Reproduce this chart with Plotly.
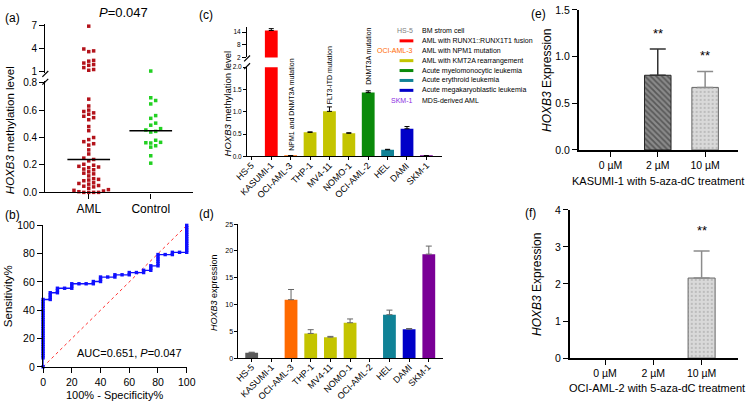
import numpy as np
import plotly.graph_objects as go

W, H = 753, 410
FONT = "Liberation Sans, Arial, sans-serif"


def fx(p):
    return p / W


def fy(p):
    return 1 - p / H


# ======================= DATA =======================
# (a) methylation level scatter
aml_methylation = [
    6.9, 3.9, 3.65, 3.55, 2.4, 2.3, 2.05, 1.85, 1.75, 1.45, 1.2, 1.1,
    0.68, 0.63, 0.60, 0.59, 0.58, 0.57, 0.555, 0.545, 0.53, 0.48, 0.45,
    0.40, 0.385, 0.37, 0.355, 0.345, 0.31, 0.28, 0.25, 0.24, 0.23,
    0.205, 0.198, 0.19, 0.185, 0.18, 0.17, 0.165, 0.15, 0.14, 0.135,
    0.12, 0.10, 0.095, 0.09, 0.085, 0.07, 0.065, 0.06, 0.05, 0.045,
    0.04, 0.03, 0.02, 0.015, 0.01, 0.005, 0.0, 0.0, 0.0, 0.0,
]
control_methylation = [
    0.213, 0.267, 0.33, 0.34, 0.36, 0.362, 0.365, 0.38, 0.44, 0.445,
    0.455, 0.465, 0.49, 0.505, 0.54, 0.56, 0.645, 0.67, 0.69, 1.00,
]
groups_a = ["AML", "Control"]
p_text_a = "<i>P</i>=0.047"
auc_text = "AUC=0.651, <i>P</i>=0.047"
diag_line = [0, 100]

# (c) / (d) cell lines
cells = ["HS-5", "KASUMI-1", "OCI-AML-3", "THP-1", "MV4-11", "NOMO-1",
         "OCI-AML-2", "HEL", "DAMI", "SKM-1"]
methylation_c = [None, 14.8, 0.01, 0.54, 1.01, 0.52, 1.43, 0.15, 0.62, 0.01]
methylation_c_err = [None, 0.9, 0.01, 0.01, 0.10, 0.01, 0.04, 0.01, 0.05, 0.01]
expression_d = [1.0, None, 10.9, 4.6, 3.9, 6.6, None, 8.1, 5.4, 19.4]
expression_d_err = [0.1, None, 1.9, 0.7, 0.15, 0.7, None, 0.85, 0.12, 1.5]
mutation_labels = {"OCI-AML-3": "NPM1 and DNMT3A mutation",
                   "MV4-11": "FLT3-ITD mutation",
                   "OCI-AML-2": "DNMT3A mutation"}
legend_keys = ["HS-5", None, "OCI-AML-3", None, None, None, None, "SKM-1"]
legend_texts = ["BM strom cell", "AML with RUNX1::RUNX1T1 fusion",
                "AML with NPM1 mutation", "AML with KMT2A rearrangement",
                "Acute myelomonocytic leukemia", "Acute erythroid leukemia",
                "Acute megakaryoblastic leukemia", "MDS-derived AML"]

# (e) / (f) 5-aza-dC treatment
doses = ["0 µM", "2 µM", "10 µM"]
kasumi_expr = [None, 0.80, 0.67]
kasumi_err = [None, 0.28, 0.17]
kasumi_sig = ["", "**", "**"]
oci_expr = [None, None, 2.16]
oci_err = [None, None, 0.73]
oci_sig = ["", "", "**"]

# ======================= STYLES =======================
cell_colors = ["#5a5a5a", "#ff0000", "#ff6a00", "#c4c400", "#c4c400", "#c4c400",
               "#0a8a0a", "#108296", "#0000c8", "#7a0096"]
legend_line_colors = [None, "#ff0000", None, "#c4c400", "#0a8a0a", "#108296",
                      "#0000c8", None]
legend_key_colors = ["#7f7f7f", None, "#ff6a00", None, None, None, None, "#8a2be2"]
dose_pattern = ["", "\\", "."]
dose_bg = ["#ffffff", "#8a8a8a", "#d9d9d9"]
dose_fg = ["#000000", "#262626", "#4a4a4a"]
dose_line = ["#000000", "#262626", "#666666"]
dose_err_color = ["#333333", "#333333", "#8c8c8c"]

fig = go.Figure()

# ======================= PANEL (a) =======================
AX_L, AX_R = 43, 193
XR_A = [-0.70, 1.68]
px_per_unit_a = (AX_R - AX_L) / (XR_A[1] - XR_A[0])
LOW_BOT, LOW_TOP = 192, 77
LOW_MAX = 0.8 * (LOW_BOT - LOW_TOP) / (LOW_BOT - 79.0)
UP_BOT, UP_TOP = 69, 19
UP_PX = (67 - 20) / 6.0  # px per unit of upper segment
UP_RANGE = [1 - (UP_BOT - 67) / UP_PX, 7 + (20 - UP_TOP) / UP_PX]


def a_ypx(v):
    if v > LOW_MAX:
        return 67 - (v - 1) * UP_PX
    return LOW_BOT - v * (LOW_BOT - 79.0) / 0.8


def swarm(values, step=5.0, diam=4.0):
    order = np.argsort(values, kind="stable")
    placed = []
    offs = np.zeros(len(values))
    cands = [0]
    for j in range(1, 30):
        cands += [j, -j]
    for i in order:
        yp = a_ypx(values[i])
        for c in cands:
            xo = c * step
            if all((xo - p0) ** 2 + (yp - p1) ** 2 >= diam ** 2 - 1e-9 for p0, p1 in placed):
                break
        placed.append((xo, yp))
        offs[i] = xo
    return offs


for gi, (vals, col) in enumerate([(aml_methylation, "#b3131b"), (control_methylation, "#22d022")]):
    vals = np.array(vals, dtype=float)
    offs = swarm(vals) / px_per_unit_a
    xs = gi + offs
    low = vals <= LOW_MAX
    fig.add_trace(go.Scatter(x=xs[low], y=vals[low], mode="markers", xaxis="x", yaxis="y",
                             marker=dict(symbol="square", size=3.5, color=col),
                             cliponaxis=False, showlegend=False, hoverinfo="skip"))
    fig.add_trace(go.Scatter(x=xs[~low], y=vals[~low], mode="markers", xaxis="x", yaxis="y2",
                             marker=dict(symbol="square", size=3.5, color=col),
                             cliponaxis=False, showlegend=False, hoverinfo="skip"))
    med = float(np.median(vals))
    fig.add_trace(go.Scatter(x=[gi - 0.344, gi + 0.344], y=[med, med], mode="lines",
                             xaxis="x", yaxis="y", line=dict(color="black", width=1.5),
                             showlegend=False, hoverinfo="skip"))

# ======================= PANEL (b) ROC =======================
a_arr = np.array(aml_methylation)
c_arr = np.array(control_methylation)
uv = np.unique(np.concatenate([a_arr, c_arr]))
thr = np.concatenate([[uv[0] - 1], (uv[:-1] + uv[1:]) / 2, [uv[-1] + 1]])
tpr = [100 * np.mean(a_arr < t) for t in thr]
fpr = [100 * np.mean(c_arr < t) for t in thr]

fig.add_trace(go.Scatter(x=diag_line, y=diag_line, mode="lines", xaxis="x2", yaxis="y3",
                         line=dict(color="#ff3333", width=1, dash="dot"),
                         showlegend=False, hoverinfo="skip"))
fig.add_trace(go.Scatter(x=fpr, y=tpr, mode="lines+markers", xaxis="x2", yaxis="y3",
                         line=dict(color="#1010ff", width=1.3),
                         marker=dict(symbol="square", size=3.4, color="#1010ff"),
                         cliponaxis=False, showlegend=False, hoverinfo="skip"))

# ======================= PANEL (c) =======================
idx_cells = list(range(len(cells)))
for yax in ["y4", "y5"]:
    fig.add_trace(go.Bar(x=idx_cells, y=methylation_c, xaxis="x3", yaxis=yax, width=0.66,
                         marker=dict(color=cell_colors, line=dict(width=0)),
                         error_y=dict(type="data", array=methylation_c_err,
                                      arrayminus=[0] * len(cells), symmetric=False,
                                      color="black", thickness=1, width=2.5),
                         showlegend=False, hoverinfo="skip"))

# ======================= PANEL (d) =======================
fig.add_trace(go.Bar(x=idx_cells, y=expression_d, xaxis="x4", yaxis="y6", width=0.65,
                     marker=dict(color=cell_colors, line=dict(width=0)),
                     error_y=dict(type="data", array=expression_d_err,
                                  arrayminus=[0] * len(cells), symmetric=False,
                                  color="#666666", thickness=1, width=3),
                     showlegend=False, hoverinfo="skip"))

# ======================= PANELS (e), (f) =======================
for xa, ya, vals, errs in [("x5", "y7", kasumi_expr, kasumi_err), ("x6", "y8", oci_expr, oci_err)]:
    for i, d in enumerate(doses):
        if vals[i] is None:
            continue
        fig.add_trace(go.Bar(x=[i], y=[vals[i]], xaxis=xa, yaxis=ya, width=0.56,
                             marker=dict(color=dose_bg[i],
                                         line=dict(color=dose_line[i], width=1),
                                         pattern=dict(shape=dose_pattern[i], fgcolor=dose_fg[i],
                                                      bgcolor=dose_bg[i], size=4,
                                                      solidity=0.45 if dose_pattern[i] == "\\" else 0.12,
                                                      fillmode="overlay")),
                             error_y=dict(type="data", array=[errs[i]], arrayminus=[0],
                                          symmetric=False, color=dose_err_color[i],
                                          thickness=1.5, width=8),
                             showlegend=False, hoverinfo="skip"))

# ======================= AXES =======================
base_ax = dict(showline=True, linecolor="black", zeroline=False, showgrid=False,
               ticks="outside", tickcolor="black", fixedrange=True)


def ax(**kw):
    d = dict(base_ax)
    d.update(kw)
    return d


lay = dict(
    xaxis=ax(domain=[fx(AX_L), fx(AX_R)], range=XR_A, anchor="y", tickvals=[0, 1],
             ticktext=groups_a, linewidth=1.3, ticklen=5,
             tickfont=dict(family=FONT, size=12, color="black")),
    yaxis=ax(domain=[fy(LOW_BOT), fy(LOW_TOP)], range=[0, LOW_MAX], anchor="x",
             tickvals=[0, 0.2, 0.4, 0.6, 0.8], tickformat=".1f", linewidth=1.3, ticklen=5,
             tickfont=dict(family=FONT, size=10, color="black")),
    yaxis2=ax(domain=[fy(UP_BOT), fy(UP_TOP)], range=UP_RANGE, anchor="x",
              tickvals=[1, 4, 7], linewidth=1.3, ticklen=5,
              tickfont=dict(family=FONT, size=10, color="black")),
    xaxis2=ax(domain=[fx(40.7), fx(186.7)], range=[0, 100], anchor="y3",
              tickvals=[0, 20, 40, 60, 80, 100], linewidth=1.3, ticklen=5,
              tickfont=dict(family=FONT, size=10.5, color="black")),
    yaxis3=ax(domain=[fy(371.7), fy(226)], range=[0, 100], anchor="x2",
              tickvals=[0, 20, 40, 60, 80, 100], linewidth=1.3, ticklen=5,
              tickfont=dict(family=FONT, size=10.5, color="black")),
    xaxis3=ax(domain=[fx(248), fx(446)], range=[-0.25, 9.8], anchor="y4",
              tickvals=idx_cells, showticklabels=False, linewidth=1, ticklen=3),
    yaxis4=ax(domain=[fy(155), fy(63)], range=[0, 2.0], anchor="x3",
              tickvals=[0, 0.5, 1.0, 1.5, 2.0], tickformat=".1f", linewidth=1, ticklen=3,
              tickfont=dict(family=FONT, size=6.5, color="black")),
    yaxis5=ax(domain=[fy(53), fy(22)], range=[2, 2 + 31 / (26 / 12)], anchor="x3",
              tickvals=[2, 8, 14], linewidth=1, ticklen=4,
              tickfont=dict(family=FONT, size=6.5, color="black")),
    xaxis4=ax(domain=[fx(239.3), fx(446.7)], range=[-0.67, 9.7], anchor="y6",
              tickvals=idx_cells, showticklabels=False, linewidth=1, ticklen=3),
    yaxis6=ax(domain=[fy(362.7), fy(224.7)], range=[0, 25], anchor="x4",
              tickvals=[0, 5, 10, 15, 20, 25], linewidth=1, ticklen=3,
              tickfont=dict(family=FONT, size=7, color="black")),
    xaxis5=ax(domain=[fx(585), fx(746.7)], range=[-0.67, 2.69], anchor="y7",
              tickvals=[0, 1, 2], ticktext=doses, linewidth=1.6, ticklen=5,
              tickfont=dict(family=FONT, size=10.5, color="black")),
    yaxis7=ax(domain=[fy(148.3), fy(4)], range=[0, 1.5], anchor="x5",
              tickvals=[0, 0.5, 1.0, 1.5], tickformat=".1f", linewidth=1.6, ticklen=5,
              tickfont=dict(family=FONT, size=10.5, color="black")),
    xaxis6=ax(domain=[fx(576), fx(746.7)], range=[-0.73, 2.75], anchor="y8",
              tickvals=[0, 1, 2], ticktext=doses, linewidth=1.6, ticklen=5,
              tickfont=dict(family=FONT, size=10.5, color="black")),
    yaxis8=ax(domain=[fy(362.7), fy(210)], range=[0, 4], anchor="x6",
              tickvals=[0, 1, 2, 3, 4], linewidth=1.6, ticklen=5,
              tickfont=dict(family=FONT, size=10.5, color="black")),
)

# ======================= ANNOTATIONS =======================
ann = []


def txt(x, y, s, size, color="black", xanchor="center", yanchor="middle", angle=0, xref="paper", yref="paper"):
    ann.append(dict(x=x, y=y, xref=xref, yref=yref, text=s, showarrow=False,
                    font=dict(family=FONT, size=size, color=color),
                    xanchor=xanchor, yanchor=yanchor, textangle=angle))


# rotated category tick labels for (c) and (d)
for xref, axis_py in [("x3", 155), ("x4", 362.7)]:
    for i, name in enumerate(cells):
        ann.append(dict(x=i, y=fy(axis_py + 2.5), xref=xref, yref="paper", text=name,
                        showarrow=False, textangle=-45, xanchor="right", yanchor="top",
                        xshift=6, borderpad=0,
                        font=dict(family=FONT, size=9, color="black")))

# panel letters
txt(fx(0), fy(12), "(a)", 12, xanchor="left")
txt(fx(0), fy(215), "(b)", 12, xanchor="left")
txt(fx(197), fy(9), "(c)", 12, xanchor="left")
txt(fx(197), fy(214), "(d)", 12, xanchor="left")
txt(fx(535), fy(8), "(e)", 12, xanchor="left")
txt(fx(528), fy(213), "(f)", 12, xanchor="left")

# (a)
txt(fx(122), fy(7), p_text_a, 13)
txt(fx(7), fy(128), "<i>HOXB3</i> methylation level", 11.5, angle=-90)
# (b)
txt(fx(129), fy(357), auc_text, 11)
txt(fx(5), fy(299), "Sensitivity%", 11.5, angle=-90)
txt(fx(113), fy(401), "100% - Specificity%", 11)
# (c)
txt(fx(228), fy(100), "<i>HOXB3</i> methylation level", 9.5, angle=-90)
mut_centers = {"OCI-AML-3": 102, "MV4-11": 71, "OCI-AML-2": 52}
for name, lab in mutation_labels.items():
    i = cells.index(name)
    ann.append(dict(x=i, y=fy(mut_centers[name]), xref="x3", yref="paper", text=lab,
                    showarrow=False, textangle=-90, xanchor="center", yanchor="middle",
                    font=dict(family=FONT, size=7, color="black")))
# legend of (c)
shapes = []
for r, (k, t) in enumerate(zip(legend_keys, legend_texts)):
    yy = 25.7 + r * 10.2
    if k is not None:
        txt(fx(419), fy(yy), k, 7, color=legend_key_colors[r], xanchor="right")
    if legend_line_colors[r] is not None:
        shapes.append(dict(type="line", xref="paper", yref="paper", x0=fx(403), x1=fx(417),
                           y0=fy(yy), y1=fy(yy), line=dict(color=legend_line_colors[r], width=3)))
    txt(fx(424), fy(yy), t, 7, xanchor="left")
# (d)
txt(fx(215), fy(295), "<i>HOXB3</i> expression", 9, angle=-90)
# (e)
txt(fx(553), fy(77), "<i>HOXB3</i> Expression", 12, angle=-90)
txt(fx(666), fy(180), "KASUMI-1 with 5-aza-dC treatment", 11)
for i, s in enumerate(kasumi_sig):
    if s:
        ann.append(dict(x=i, y=kasumi_expr[i] + kasumi_err[i], xref="x5", yref="y7", text=s,
                        showarrow=False, yshift=16, xanchor="center", yanchor="middle",
                        font=dict(family=FONT, size=13, color="black")))
# (f)
txt(fx(542), fy(287), "<i>HOXB3</i> Expression", 12, angle=-90)
txt(fx(665), fy(394), "OCI-AML-2 with 5-aza-dC treatment", 11)
for i, s in enumerate(oci_sig):
    if s:
        ann.append(dict(x=i, y=oci_expr[i] + oci_err[i], xref="x6", yref="y8", text=s,
                        showarrow=False, yshift=20, xanchor="center", yanchor="middle",
                        font=dict(family=FONT, size=13, color="black")))

# axis break marks
for (bx, by) in [(43, 70), (43, 78), (248, 54), (248, 62)]:
    shapes.append(dict(type="line", xref="paper", yref="paper", x0=fx(bx - 3), x1=fx(bx + 3),
                       y0=fy(by + 3), y1=fy(by - 3), line=dict(color="black", width=1.2)))

fig.update_layout(
    width=W, height=H, autosize=False,
    margin=dict(l=0, r=0, t=0, b=0, pad=0),
    paper_bgcolor="white", plot_bgcolor="white",
    barmode="overlay", showlegend=False,
    font=dict(family=FONT, color="black"),
    annotations=ann, shapes=shapes,
    **lay,
)

fig.write_html("out.html")
